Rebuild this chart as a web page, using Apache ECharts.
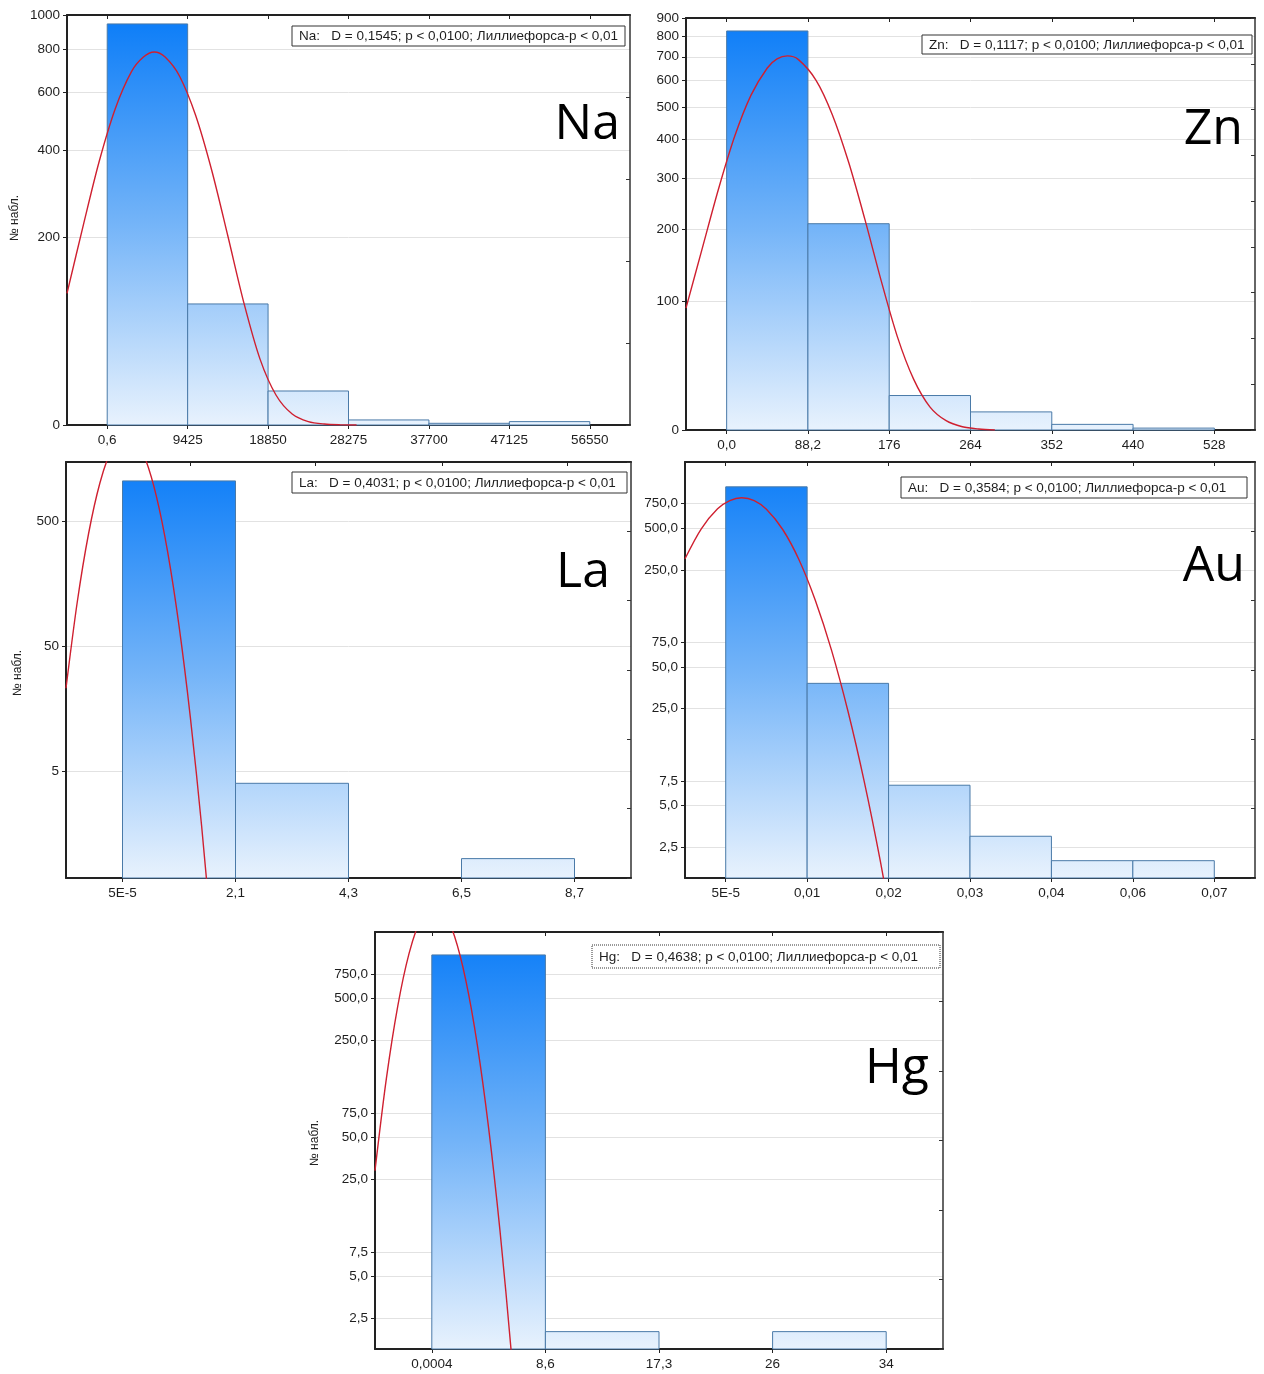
<!DOCTYPE html>
<html><head><meta charset="utf-8">
<script src="https://cdn.jsdelivr.net/npm/echarts@6/dist/echarts.min.js"></script>
<style>html,body{margin:0;padding:0;background:#fff}#c{width:1264px;height:1374px}</style>
</head><body><div id="c"></div><script>
// ---------- DATA ----------
const naXLabels = ['0,6','9425','18850','28275','37700','47125','56550'];
const naCounts  = [944,103,22,3,1,2];
const naYTicks  = [0,200,400,600,800,1000];
const naYLabels = ['0','200','400','600','800','1000'];
const naCurveX  = [-0.5,-0.3,-0.1,0.1,0.3,0.45,0.585,0.72,0.9,1.1,1.3,1.5,1.7,1.9,2.1,2.3,2.5,2.7,2.9,3.1];
const naCurveY  = [116,220,367,536,689,760,786,760,669,511,343,202,104,47,19,6.6,2.0,0.55,0.1,0];

const znXLabels = ['0,0','88,2','176','264','352','440','528'];
const znCounts  = [828,209,20,10,3,1];
const znYTicks  = [0,100,200,300,400,500,600,700,800,900];
const znYLabels = ['0','100','200','300','400','500','600','700','800','900'];
const znCurveX  = [-0.5,-0.3,-0.1,0.1,0.3,0.5,0.62,0.748,0.88,1.1,1.3,1.5,1.7,1.9,2.1,2.3,2.5,2.7,2.9,3.1,3.3];
const znCurveY  = [93,169,276,408,542,650,690,704,688,599,474,338,217,125,65,31,13,5.0,1.7,0.5,0];

const laXLabels = ['5E-5','2,1','4,3','6,5','8,7'];
const laCounts  = [1045,4,0,1];
const laYTicks  = [5,50,500];
const laYLabels = ['5','50','500'];
const laCurveX  = [-0.5,-0.4,-0.3,-0.2,-0.1,0.0,0.1,0.2,0.3,0.4,0.5,0.6,0.7,0.8];
const laCurveY  = [23,113,397,1005,1837,2423,2307,1585,787,282,72.8,13.6,1.83,0.18];

const auXLabels = ['5E-5','0,01','0,02','0,03','0,04','0,06','0,07'];
const auCounts  = [993,38,7,3,2,2];
const auYTicks  = [2.5,5,7.5,25,50,75,250,500,750];
const auYLabels = ['2,5','5,0','7,5','25,0','50,0','75,0','250,0','500,0','750,0'];
const auCurveX  = [-0.5,-0.3,-0.1,0.05,0.197,0.35,0.5,0.7,0.9,1.1,1.3,1.5,1.7,1.9,2.1];
const auCurveY  = [301,495,689,790,828,790,684,489,296,151,65.7,24.1,7.5,1.97,0.44];

const hgXLabels = ['0,0004','8,6','17,3','26','34'];
const hgCounts  = [1026,2,0,2];
const hgYTicks  = [2.5,5,7.5,25,50,75,250,500,750];
const hgYLabels = ['2,5','5,0','7,5','25,0','50,0','75,0','250,0','500,0','750,0'];
const hgCurveX  = [-0.5,-0.4,-0.3,-0.2,-0.1,0.0,0.1,0.2,0.3,0.4,0.5,0.6,0.7,0.8];
const hgCurveY  = [28.8,132,438,1052,1832,2310,2110,1397,670,233,58.5,10.7,1.41,0.135];

const naStat = 'Na:   D = 0,1545; p < 0,0100; Лиллиефорса-p < 0,01';
const znStat = 'Zn:   D = 0,1117; p < 0,0100; Лиллиефорса-p < 0,01';
const laStat = 'La:   D = 0,4031; p < 0,0100; Лиллиефорса-p < 0,01';
const auStat = 'Au:   D = 0,3584; p < 0,0100; Лиллиефорса-p < 0,01';
const hgStat = 'Hg:   D = 0,4638; p < 0,0100; Лиллиефорса-p < 0,01';
const yTitle = '№ набл.';

// ---------- LAYOUT ----------
const panels = [
  {name:'Na', grid:[67,15,563,410], off:100, yMin:0, yMax:1000, yTicks:naYTicks, yLabels:naYLabels, xLabels:naXLabels, counts:naCounts, cx:naCurveX, cy:naCurveY,
   rightDiv:5, topTicks:[0,1,2,3,4,5,6], box:[292,26,333,20], stat:naStat, dotted:false, big:[620,122], title:[15,218]},
  {name:'Zn', grid:[686,18,569,412], off:90, yMin:0, yMax:900, yTicks:znYTicks, yLabels:znYLabels, xLabels:znXLabels, counts:znCounts, cx:znCurveX, cy:znCurveY,
   rightDiv:9, topTicks:[0,1,2,3,4,5,6], box:[922,35,330,19], stat:znStat, dotted:false, big:[1243,127], title:null},
  {name:'La', grid:[66,462,565,416], off:0, yMin:0.7, yMax:1480, yTicks:laYTicks, yLabels:laYLabels, xLabels:laXLabels, counts:laCounts, cx:laCurveX, cy:laCurveY,
   rightDiv:6, topTicks:[0.6,1.71,2.83,3.94], box:[292,472,335,21], stat:laStat, dotted:false, big:[610,570], title:[18,673]},
  {name:'Au', grid:[685,462,570,416], off:0, yMin:1.5, yMax:1500, yTicks:auYTicks, yLabels:auYLabels, xLabels:auXLabels, counts:auCounts, cx:auCurveX, cy:auCurveY,
   rightDiv:6, topTicks:[0,1,2,3,4,5,6], box:[901,477,346,21], stat:auStat, dotted:false, big:[1245,564], title:null},
  {name:'Hg', grid:[375,932,568,417], off:0, yMin:1.5, yMax:1500, yTicks:hgYTicks, yLabels:hgYLabels, xLabels:hgXLabels, counts:hgCounts, cx:hgCurveX, cy:hgCurveY,
   rightDiv:6, topTicks:[0,1,2,3,4], box:[592,945,348,23], stat:hgStat, dotted:true, big:[929,1066], title:[315,1143]}
];

const FONT = '"Liberation Sans", Arial, sans-serif';
const chart = echarts.init(document.getElementById('c'), null, {renderer:'canvas', width:1264, height:1374});
const grids=[], xAxes=[], yAxes=[], series=[], graphics=[];

panels.forEach((p,k)=>{
  const tf = v => Math.log10(v + p.off);
  const tMin = tf(p.yMin), tMax = tf(p.yMax);
  const tickT = p.yTicks.map(tf);
  const n = p.counts.length;
  const edges = p.xLabels.map((_,i)=>i);
  grids.push({left:p.grid[0], top:p.grid[1], width:p.grid[2], height:p.grid[3]});
  xAxes.push({type:'value', gridIndex:k, position:'bottom', min:-0.5, max:n+0.5,
    axisLine:{show:true, onZero:false, lineStyle:{color:'#222', width:2}},
    axisTick:{show:true, customValues:edges, length:4, lineStyle:{color:'#222', width:1}},
    axisLabel:{show:true, customValues:edges, formatter:v=>p.xLabels[Math.round(v)], color:'#1e1e1e', fontSize:13.5, fontFamily:FONT, margin:8},
    splitLine:{show:false}});
  xAxes.push({type:'value', gridIndex:k, position:'top', min:-0.5, max:n+0.5,
    axisLine:{show:true, onZero:false, lineStyle:{color:'#222', width:2}},
    axisTick:{show:true, inside:true, customValues:p.topTicks, length:4, lineStyle:{color:'#222', width:1}},
    axisLabel:{show:false}, splitLine:{show:false}});
  yAxes.push({type:'value', gridIndex:k, position:'left', min:tMin, max:tMax,
    axisLine:{show:true, onZero:false, lineStyle:{color:'#222', width:2}},
    axisTick:{show:true, customValues:tickT, length:4, lineStyle:{color:'#222', width:1}},
    axisLabel:{show:true, customValues:tickT, color:'#1e1e1e', fontSize:13.5, fontFamily:FONT, margin:7,
      formatter:v=>{let b=0,bd=Infinity; tickT.forEach((t,i)=>{const d=Math.abs(t-v); if(d<bd){bd=d;b=i;}}); return p.yLabels[b];}},
    splitLine:{show:true, lineStyle:{color:'#e2e2e2', width:1}}});
  yAxes.push({type:'value', gridIndex:k, position:'right', min:0, max:p.rightDiv, interval:1,
    axisLine:{show:true, onZero:false, lineStyle:{color:'#333', width:1.5}},
    axisTick:{show:true, inside:true, length:4, lineStyle:{color:'#333', width:1}},
    axisLabel:{show:false}, splitLine:{show:false}});

  series.push({type:'custom', xAxisIndex:2*k, yAxisIndex:2*k, z:3, silent:true,
    data: p.counts.map((c,i)=>[i, c]).filter(d=>d[1]>0).map(d=>[d[0], tf(d[1])]),
    renderItem:(params, api)=>{
      const i = api.value(0), t = api.value(1);
      const p0 = api.coord([i, t]); const p1 = api.coord([i+1, tMin]);
      const cs = params.coordSys;
      return {type:'rect', shape:{x:p0[0], y:p0[1], width:p1[0]-p0[0], height:p1[1]-p0[1]},
        style:{fill:new echarts.graphic.LinearGradient(0, cs.y, 0, cs.y+cs.height,
          [{offset:0,color:'#0a7cf8'},{offset:0.5,color:'#72b3f8'},{offset:1,color:'#e8f2fd'}], true),
          stroke:'#4a7aa8', lineWidth:1}};
    }});
  series.push({type:'line', xAxisIndex:2*k, yAxisIndex:2*k, z:4, silent:true, showSymbol:false, symbol:'none',
    smooth:0.3, clip:true, lineStyle:{color:'#cf2030', width:1.4},
    data: p.cx.map((x,j)=>[x, tf(p.cy[j])])});

  const b = p.box;
  graphics.push({type:'rect', shape:{x:b[0], y:b[1], width:b[2], height:b[3]}, z:100,
    style:{fill:'#fff', stroke:'#333', lineWidth:1, lineDash: p.dotted ? [1,1] : null}});
  graphics.push({type:'text', x:b[0]+7, y:b[1]+b[3]/2+0.5, z:101,
    style:{text:p.stat, fontSize:13.5, fontFamily:FONT, fill:'#1e1e1e', verticalAlign:'middle', align:'left'}});
  graphics.push({type:'text', x:p.big[0], y:p.big[1]+3, z:101,
    style:{text:p.name, fontSize:50, fontFamily:'"Open Sans", sans-serif', fill:'#000', verticalAlign:'middle', align:'right'}});
  if (p.title) graphics.push({type:'text', x:p.title[0], y:p.title[1], rotation:Math.PI/2, z:101,
    style:{text:yTitle, fontSize:12, fontFamily:FONT, fill:'#222', verticalAlign:'middle', align:'center'}});
});

chart.setOption({animation:false, backgroundColor:'#fff', grid:grids, xAxis:xAxes, yAxis:yAxes, series:series, graphic:graphics});
</script></body></html>
